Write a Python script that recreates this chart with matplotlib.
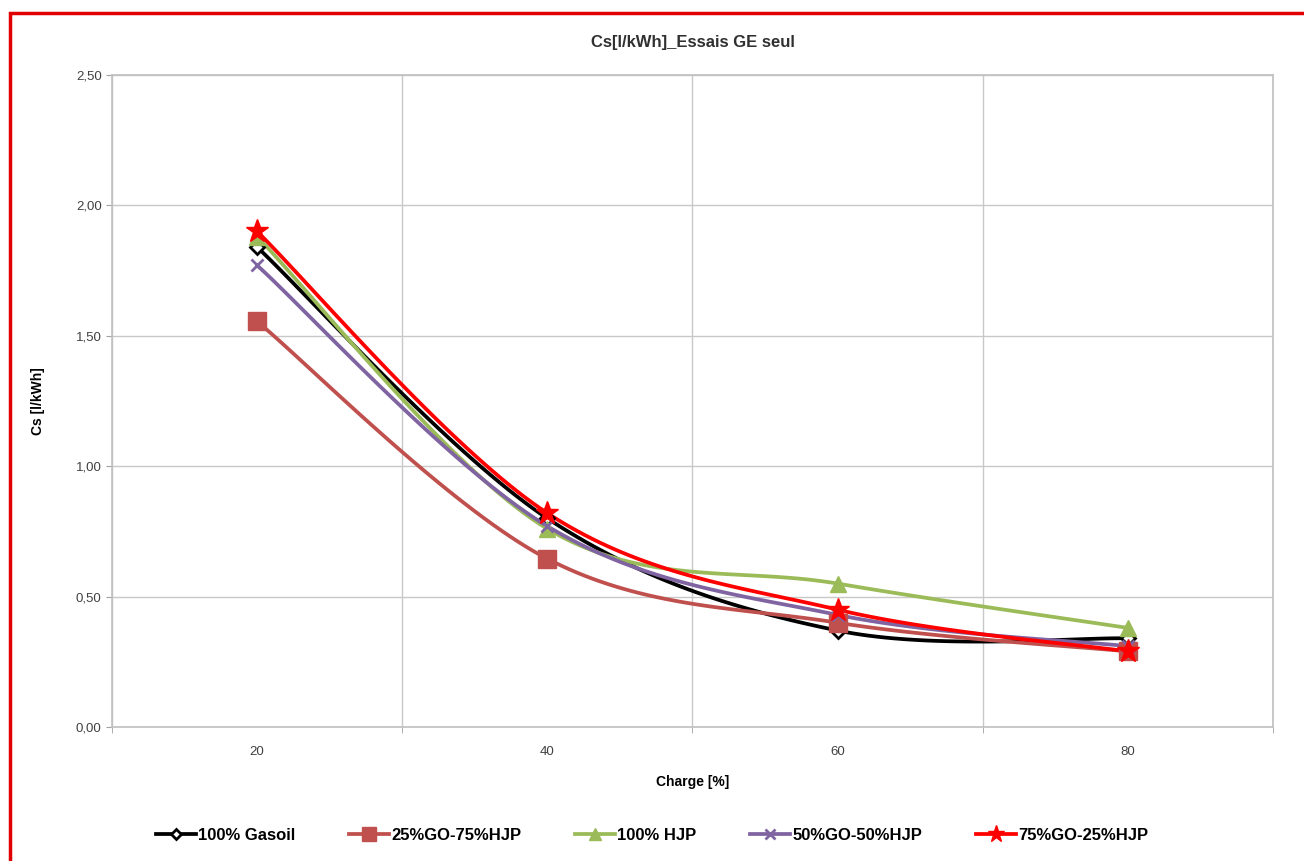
import matplotlib
matplotlib.use("Agg")
import matplotlib.pyplot as plt
import numpy as np
from matplotlib.lines import Line2D
from matplotlib.patches import Rectangle
from matplotlib.ticker import FuncFormatter, FixedLocator

plt.rcParams["font.family"] = ["Liberation Sans", "DejaVu Sans"]

# --- data ---------------------------------------------------------------
charge = ["20", "40", "60", "80"]
gasoil = [1.84, 0.80, 0.37, 0.34]
go25_hjp75 = [1.555, 0.645, 0.40, 0.29]
hjp100 = [1.88, 0.76, 0.55, 0.38]
go50_hjp50 = [1.77, 0.77, 0.43, 0.31]
go75_hjp25 = [1.90, 0.82, 0.45, 0.29]

series = [
    ("100% Gasoil", gasoil, "black", "D", 7, "white"),
    ("25%GO-75%HJP", go25_hjp75, "#C0504D", "s", 13, "#C0504D"),
    ("100% HJP", hjp100, "#9BBB59", "^", 12, "#9BBB59"),
    ("50%GO-50%HJP", go50_hjp50, "#8064A2", "x", 9, "#8064A2"),
    ("75%GO-25%HJP", go75_hjp25, "#FF0000", "*", 17, "#FF0000"),
]
# ------------------------------------------------------------------------


def smooth(x, y, n=40):
    """Excel-like smoothed line (Catmull-Rom Bezier)."""
    pts = np.column_stack([x, y]).astype(float)
    out = [pts[0]]
    for i in range(len(pts) - 1):
        p0 = pts[i - 1] if i > 0 else pts[i]
        p1, p2 = pts[i], pts[i + 1]
        p3 = pts[i + 2] if i + 2 < len(pts) else pts[i + 1]
        c1 = p1 + (p2 - p0) / 6
        c2 = p2 - (p3 - p1) / 6
        t = np.linspace(0, 1, n)[1:, None]
        seg = ((1 - t) ** 3) * p1 + 3 * ((1 - t) ** 2) * t * c1 + 3 * (1 - t) * t ** 2 * c2 + t ** 3 * p2
        out.extend(seg)
    out = np.array(out)
    return out[:, 0], out[:, 1]


fig = plt.figure(figsize=(13.04, 8.61), dpi=100)
ax = fig.add_axes([0.0859, 0.1556, 0.8903, 0.7573])

xpos = np.arange(len(charge))
handles = []
for name, vals, col, mk, ms, fc in series:
    sx, sy = smooth(xpos, vals)
    ax.plot(sx, sy, color=col, lw=2.7, zorder=3, solid_capstyle="round")
    mew = 2.0 if mk in ("x", "D") else 1
    ax.plot(xpos, vals, ls="none", marker=mk, ms=ms, color=col, mfc=fc,
            mec=col, mew=mew, zorder=4)
    handles.append(Line2D([], [], color=col, lw=2.7, marker=mk, ms=ms * 0.75,
                          mfc=fc, mec=col, mew=mew, label=name))

ax.set_xlim(-0.5, 3.5)
ax.set_ylim(0, 2.5)
ax.set_xticks(xpos)
ax.set_xticklabels(charge)
ax.xaxis.set_minor_locator(FixedLocator([-0.5, 0.5, 1.5, 2.5, 3.5]))
ax.set_yticks(np.arange(0, 2.51, 0.5))
ax.yaxis.set_major_formatter(FuncFormatter(lambda v, p: f"{v:.2f}".replace(".", ",")))
ax.grid(True, which="major", axis="y", color="#C8C8C8", lw=1)
ax.grid(True, which="minor", axis="x", color="#C8C8C8", lw=1)
ax.tick_params(axis="both", which="major", labelsize=9.5, colors="#404040", length=4, color="#A0A0A0")
ax.tick_params(axis="x", which="major", length=0, pad=14)
ax.tick_params(axis="x", which="minor", length=4, color="#A0A0A0")
for s in ax.spines.values():
    s.set_color("#C0C0C0")
    s.set_linewidth(1.2)

ax.set_title("Cs[l/kWh]_Essais GE seul", fontsize=12, fontweight="bold", color="#303030", pad=20)
ax.set_xlabel("Charge [%]", fontsize=10, fontweight="bold", labelpad=12)
ax.set_ylabel("Cs [l/kWh]", fontsize=10, fontweight="bold", labelpad=22)

fig.legend(handles=handles, loc="center", bbox_to_anchor=(0.5, 0.03), ncol=5,
           frameon=False, prop={"size": 12, "weight": "bold"}, handlelength=2.4,
           columnspacing=3.2, handletextpad=0.15)

# outer red frame
fig.patches.append(Rectangle((10 / 1304, -0.05), 1.2, 1 - 13 / 861 + 0.05,
                             transform=fig.transFigure, fill=False,
                             edgecolor="#E00000", lw=2.5, zorder=10))

fig.savefig("out.png", dpi=100)
